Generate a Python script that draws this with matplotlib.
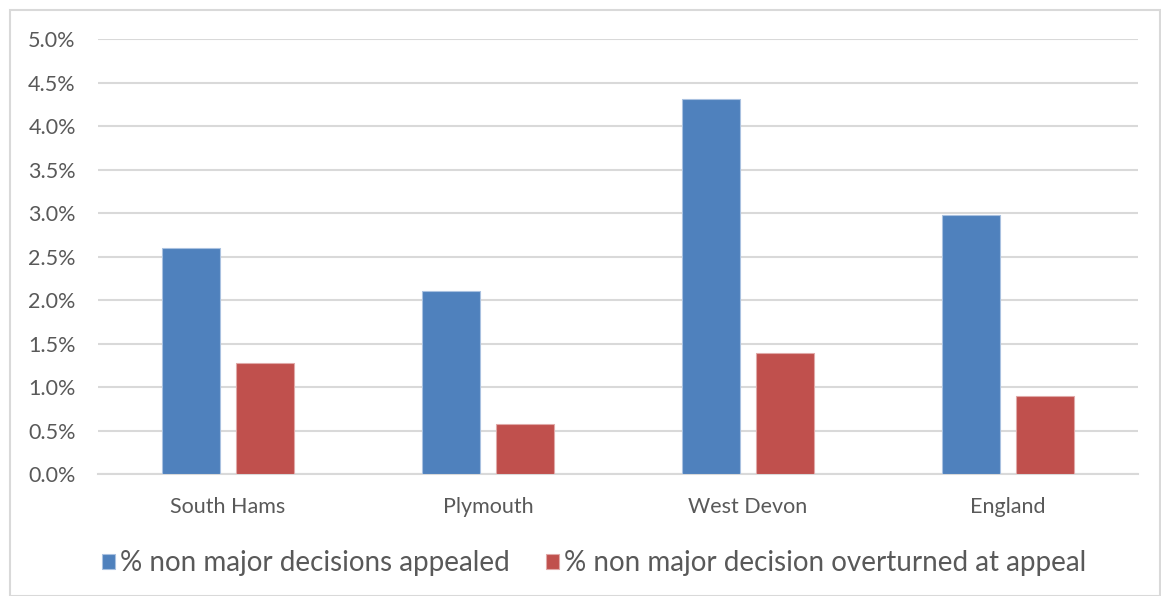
import matplotlib
matplotlib.use("Agg")
import matplotlib.pyplot as plt
import numpy as np
from matplotlib.patches import Rectangle

categories = ["South Hams", "Plymouth", "West Devon", "England"]
appealed = [2.6, 2.1, 4.31, 2.98]
overturned = [1.28, 0.58, 1.39, 0.90]
series_names = ["% non major decisions appealed", "% non major decision overturned at appeal"]
yticks = [0.0, 0.5, 1.0, 1.5, 2.0, 2.5, 3.0, 3.5, 4.0, 4.5, 5.0]

blue = "#4f81bd"
red = "#c0504d"
txt = "#595959"
grid = "#d9d9d9"

plt.rcParams['font.family'] = ['Lato', 'DejaVu Sans']

W, H = 1161, 596
fig = plt.figure(figsize=(W / 100, H / 100), dpi=100)
ax = fig.add_axes([98 / W, (H - 474.3) / H, (1138 - 98) / W, (474.3 - 39) / H])

x = np.arange(len(categories))
bw = 0.223
off = (bw + 0.0615) / 2
b1 = ax.bar(x - off, appealed, bw, color=blue, edgecolor="#a9c1e0", linewidth=0.8, label=series_names[0], zorder=3)
b2 = ax.bar(x + off, overturned, bw, color=red, edgecolor="#e0a9a8", linewidth=0.8, label=series_names[1], zorder=3)

ax.set_xlim(-0.5, len(categories) - 0.5)
ax.set_ylim(0, 5.0)
ax.set_yticks(yticks)
ax.set_yticklabels([f"{v:.1f}%" for v in yticks])
ax.set_xticks(x)
ax.set_xticklabels(categories)
ax.yaxis.grid(True, color=grid, linewidth=1.5, zorder=0)
ax.set_axisbelow(True)
for s in ["top", "right", "left"]:
    ax.spines[s].set_visible(False)
ax.spines["bottom"].set_color(grid)
ax.spines["bottom"].set_linewidth(1.5)
ax.tick_params(axis="both", length=0, colors=txt, labelsize=15.5)
ax.tick_params(axis="y", pad=16)
ax.tick_params(axis="x", pad=16.5)

leg = fig.legend(handles=[b1, b2], loc="center", bbox_to_anchor=(594.5 / W, (H - 563.5) / H),
                 ncol=2, frameon=False, fontsize=20, handlelength=0.47, handleheight=0.47,
                 handletextpad=0.18, columnspacing=1.3, labelcolor=txt, borderpad=0)

fig.patches.append(Rectangle((10 / W, 0.5 / H), (1160 - 10) / W, (H - 10.5) / H,
                             transform=fig.transFigure, fill=False, edgecolor="#d9d9d9", linewidth=1.5))

fig.savefig("out.png", dpi=100, facecolor="white")
